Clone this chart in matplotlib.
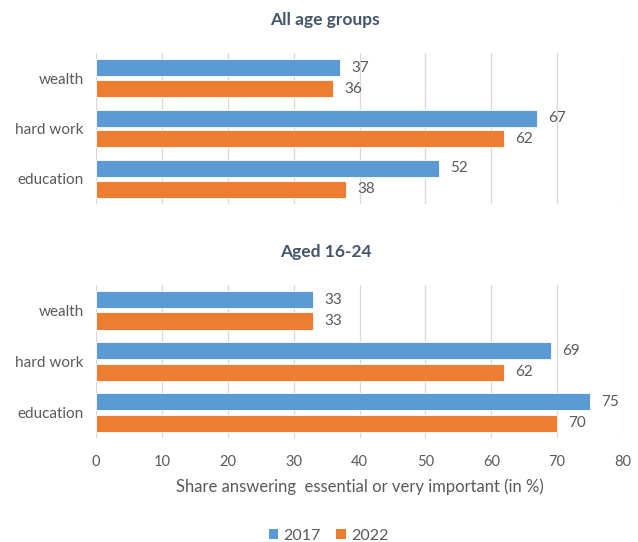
import matplotlib
matplotlib.use("Agg")
import matplotlib.pyplot as plt
from matplotlib.patches import Patch
import numpy as np

plt.rcParams['font.family'] = ['Lato', 'DejaVu Sans']

# survey answers, share saying "essential" or "very important"
categories = ['wealth', 'hard work', 'education']
years = ['2017', '2022']
all_2017 = [37, 67, 52]
all_2022 = [36, 62, 38]
young_2017 = [33, 69, 75]
young_2022 = [33, 62, 70]
panel_titles = ['All age groups', 'Aged 16-24']
x_ticks = [0, 10, 20, 30, 40, 50, 60, 70, 80]

BLUE = '#5B9BD5'
ORANGE = '#ED7D31'
TEXT = '#595959'
TITLE = '#44546A'
GRID = '#D9D9D9'

fig = plt.figure(figsize=(6.38, 5.42), dpi=100)
ax1 = fig.add_axes([0.1505, 0.6236, 0.826, 0.2786])
ax2 = fig.add_axes([0.1505, 0.1919, 0.826, 0.2823])


def draw_panel(ax, v2017, v2022, show_x):
    y = np.arange(len(categories))
    off = 0.207
    h = 0.335
    b1 = ax.barh(y - off, v2017, height=h, color=BLUE, edgecolor='white', linewidth=0.6, zorder=3)
    b2 = ax.barh(y + off, v2022, height=h, color=ORANGE, edgecolor='white', linewidth=0.6, zorder=3)
    for bars, vals in ((b1, v2017), (b2, v2022)):
        ax.bar_label(bars, labels=[str(v) for v in vals], padding=8, color=TEXT, fontsize=11)
    ax.set_yticks(y)
    ax.set_yticklabels(categories, color=TEXT, fontsize=11)
    ax.set_ylim(2.5, -0.5)
    ax.set_xlim(0, 80)
    ax.set_xticks(x_ticks)
    ax.grid(axis='x', color=GRID, linewidth=0.9, zorder=0)
    ax.tick_params(axis='both', length=0)
    ax.tick_params(axis='y', pad=9)
    ax.tick_params(axis='x', pad=12, labelcolor=TEXT, labelsize=10.5)
    if not show_x:
        ax.set_xticklabels([])
    for s in ax.spines.values():
        s.set_visible(False)


draw_panel(ax1, all_2017, all_2022, False)
draw_panel(ax2, young_2017, young_2022, True)

ax2.set_xlabel('Share answering  essential or very important (in %)', color=TEXT, fontsize=12, labelpad=7)

fig.text(0.51, 1 - 20 / 542, panel_titles[0], ha='center', va='center',
         fontsize=12.5, fontweight='bold', color=TITLE)
fig.text(0.51, 1 - 252 / 542, panel_titles[1], ha='center', va='center',
         fontsize=12.5, fontweight='bold', color=TITLE)

handles = [Patch(facecolor=BLUE, label=years[0]), Patch(facecolor=ORANGE, label=years[1])]
fig.legend(handles=handles, loc='center', bbox_to_anchor=(0.515, 0.011), ncol=2, frameon=False,
           fontsize=11.5, labelcolor=TEXT, handlelength=0.6, handleheight=0.6,
           handletextpad=0.3, columnspacing=1.0)

fig.savefig('out.png', dpi=100, facecolor='white')
